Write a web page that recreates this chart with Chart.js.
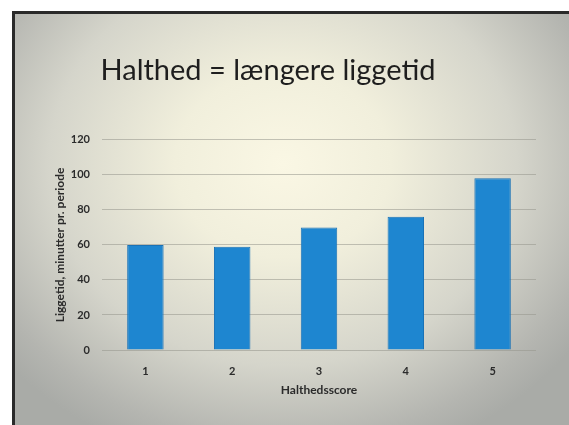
<!DOCTYPE html>
<html>

<head>
    <meta charset="utf-8">
    <title>Halthed = længere liggetid</title>
    <script src="https://cdn.jsdelivr.net/npm/chart.js"></script>
    <style>
        body {
            margin: 0;
            background: #fff;
        }

        .slide {
            position: absolute;
            left: 12px;
            top: 11px;
            width: 570px;
            height: 420px;
            border-left: 3px solid #2a2a2a;
            border-top: 3px solid #2a2a2a;
            background: radial-gradient(ellipse 360px 310px at 268px 150px, #faf7e4 0%, #f1efdc 30%, #d5d5cb 65%, #b4b5b0 90%, #a9aba7 100%);
        }

        .chart-wrap {
            position: absolute;
            left: 0;
            top: 0;
            width: 569px;
            height: 425px;
        }
    </style>
</head>

<body>
    <div class="slide"></div>
    <div class="chart-wrap"><canvas id="myChart"></canvas></div>

    <script>
        // data
        const scores = ['1', '2', '3', '4', '5'];
        const liggetid = [60, 59, 70, 76, 98];
        const yTicks = [0, 20, 40, 60, 80, 100, 120];

        const chartTitle = 'Halthed = længere liggetid';
        const xTitle = 'Halthedsscore';
        const yTitle = 'Liggetid, minutter pr. periode';

        Chart.defaults.font.family = 'Lato';
        Chart.defaults.color = '#2b2b2b';

        const myChart = new Chart(document.getElementById('myChart'), {
            type: 'bar',
            data: {
                labels: scores,
                datasets: [{
                    data: liggetid,
                    backgroundColor: '#1e86d0',
                    borderColor: '#1a72b6',
                    borderWidth: 1,
                    categoryPercentage: 1,
                    barPercentage: 0.42,
                }],
            },
            options: {
                responsive: true,
                maintainAspectRatio: false,
                animation: false,
                layout: {
                    // left padding 0 so the slide title sits where it does in the original
                    padding: { top: 53, left: 0, right: 33, bottom: 28 }
                },
                scales: {
                    x: {
                        afterFit: (scale) => { scale.height = 47; },
                        grid: { display: false, drawTicks: false, tickLength: 0 },
                        border: { display: false },
                        ticks: {
                            padding: 15,
                            font: { size: 11, weight: 'bold' },
                        },
                        title: {
                            display: true,
                            text: xTitle,
                            padding: { top: 4, bottom: 0 },
                            font: { size: 12, weight: 'bold' },
                        },
                    },
                    y: {
                        min: 0,
                        max: 120,
                        afterBuildTicks: (scale) => {
                            scale.ticks = yTicks.map(v => ({ value: v }));
                        },
                        afterFit: (scale) => { scale.width = 102; },
                        grid: {
                            color: 'rgba(150, 150, 140, 0.55)',
                            lineWidth: 1,
                            drawTicks: false,
                        },
                        border: { display: false },
                        ticks: {
                            padding: 12,
                            font: { size: 11, weight: 'bold' },
                        },
                        title: {
                            display: true,
                            text: yTitle,
                            padding: { top: 53, bottom: 3 },
                            font: { size: 12, weight: 'bold' },
                        },
                    }
                },
                plugins: {
                    legend: { display: false },
                    tooltip: { enabled: false },
                    title: {
                        display: true,
                        text: chartTitle,
                        color: '#1e1e1e',
                        font: { size: 29, weight: 'normal' },
                        padding: { top: 0, bottom: 52 },
                    }
                }
            }
        });
    </script>
</body>

</html>
